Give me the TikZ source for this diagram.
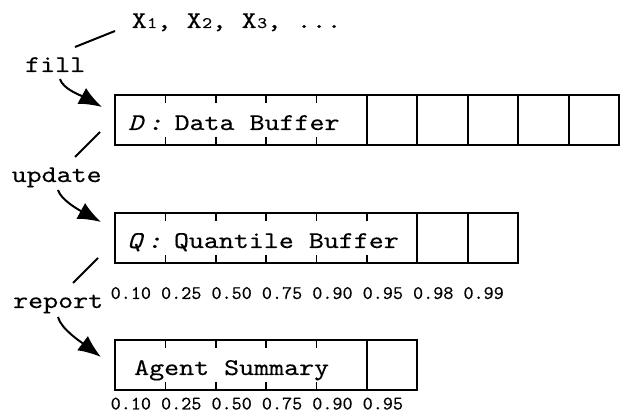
\documentclass[tikz,border=0pt]{standalone}
\usepackage{fontspec}
\setmonofont{lmmono10-regular.otf}[FakeStretch=1.19, FakeBold=0.3, ItalicFont=lmmono10-italic.otf]
\newfontfamily\labfont{lmmono10-regular.otf}[FakeBold=0.3]
\usetikzlibrary{arrows.meta}
\tikzset{
  big/.style={font=\ttfamily\fontsize{24}{26}\selectfont, inner sep=0pt, anchor=base west},
  small/.style={font=\labfont\fontsize{19.2}{21}\selectfont, inner sep=0pt, anchor=base west},
  buf/.style={draw, line width=2pt, inner sep=0pt, outer sep=0pt, minimum height=50pt, anchor=north west},
  tickl/.style={line width=1.5pt},
  divl/.style={line width=2pt},
  conn/.style={line width=2pt},
  arr/.style={line width=2pt, -{Latex[length=23pt,width=18pt]}},
}
\newcommand{\sbd}[1]{\makebox[10pt][l]{\kern0.5pt\fontsize{16}{16}\selectfont #1}}
\begin{document}
\begin{tikzpicture}[x=1pt,y=-1pt]
\useasboundingbox (0,0) rectangle (622,414);
% buffers
\node[buf, minimum width=504pt] (D) at (115,95) {};
\node[buf, minimum width=403.2pt] (Q) at (115,213) {};
\node[buf, minimum width=302.4pt] (A) at (115,340) {};
% D ticks / dividers
\foreach \k in {1,...,4}{
  \draw[tickl] ([xshift=\k*50.4pt]D.north west) -- ++(0,8);
  \draw[tickl] ([xshift=\k*50.4pt]D.south west) -- ++(0,-8);
}
\foreach \k in {5,...,9}{
  \draw[divl] ([xshift=\k*50.4pt]D.north west) -- ([xshift=\k*50.4pt]D.south west);
}
% Q ticks / dividers
\foreach \k in {1,...,5}{
  \draw[tickl] ([xshift=\k*50.4pt]Q.north west) -- ++(0,8);
  \draw[tickl] ([xshift=\k*50.4pt]Q.south west) -- ++(0,-8);
}
\foreach \k in {6,7}{
  \draw[divl] ([xshift=\k*50.4pt]Q.north west) -- ([xshift=\k*50.4pt]Q.south west);
}
% A ticks / dividers
\foreach \k in {1,...,4}{
  \draw[tickl] ([xshift=\k*50.4pt]A.north west) -- ++(0,8);
  \draw[tickl] ([xshift=\k*50.4pt]A.south west) -- ++(0,-8);
}
\draw[divl] ([xshift=5*50.4pt]A.north west) -- ([xshift=5*50.4pt]A.south west);
% texts
\node[big] (dt) at (128,130) {\textit{D}\kern3pt\textit{:}\kern12pt Data Buffer};
\node[big] (qt) at (127,248) {\textit{Q}\kern3pt\textit{:}\kern12pt Quantile Buffer};
\node[big] (at) at (134,375) {Agent Summary};
\node[small] (ql) at (110.5,299) {0.10 0.25 0.50 0.75 0.90 0.95 0.98 0.99};
\node[small] (al) at (110.5,409.5) {0.10 0.25 0.50 0.75 0.90 0.95};
\node[big] (xs) at (131.5,28) {X\sbd{1}, X\sbd{2}, X\sbd{3}, ...};
\node[big] (fill) at (25,72) {fill};
\node[big] (upd) at (11.5,182) {update};
\node[big] (rep) at (13,308) {report};
% connectors
\coordinate (c1a) at (75,47);
\coordinate (c1b) at (115,31);
\coordinate (c2a) at (100,132);
\coordinate (c2b) at (75,157);
\coordinate (c3a) at (98,258);
\coordinate (c3b) at (73,283);
\draw[conn] (c1a) -- (c1b);
\draw[conn] (c2a) -- (c2b);
\draw[conn] (c3a) -- (c3b);
\coordinate (a1s) at (60,79);
\coordinate (a1e) at (102,107);
\coordinate (a2s) at (58,190);
\coordinate (a2e) at (101,222);
\coordinate (a3s) at (58,317);
\coordinate (a3e) at (101,357);
\draw[arr] (a1s) .. controls +(3,10) and +(-22,-12) .. (a1e);
\draw[arr] (a2s) .. controls +(3,10) and +(-22,-12) .. (a2e);
\draw[arr] (a3s) .. controls +(3,12) and +(-20,-15) .. (a3e);
\end{tikzpicture}
\end{document}
